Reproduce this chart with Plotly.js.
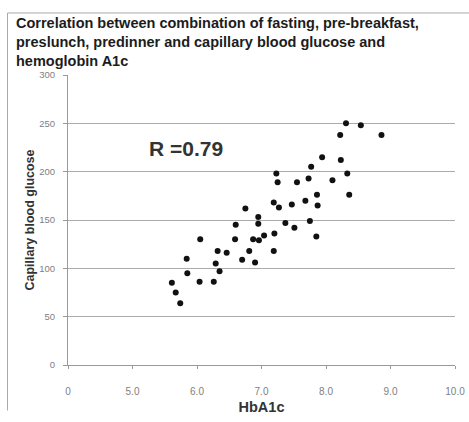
<!DOCTYPE html>
<html>
<head>
<meta charset="utf-8">
<script src="https://cdn.plot.ly/plotly-3.0.1.min.js"></script>
<style>
  html, body { margin: 0; padding: 0; background: #ffffff; }
  #chart { width: 469px; height: 422px; }
</style>
</head>
<body>
<div id="chart"></div>
<script>
// HbA1c (%) against combined capillary blood glucose (mg/dL), one point per patient
const hba1c = [5.74, 5.67, 5.61, 5.84, 5.85, 6.04, 6.26, 6.05, 6.29, 6.32,
               6.35, 6.46, 6.60, 6.59, 6.70, 6.75, 6.81, 6.87, 6.90, 6.95,
               6.95, 6.96, 7.04, 7.19, 7.20, 7.19, 7.23, 7.25, 7.27, 7.37,
               7.47, 7.51, 7.55, 7.68, 7.73, 7.75, 7.77, 7.85, 7.86, 7.87,
               7.94, 8.10, 8.22, 8.23, 8.31, 8.33, 8.36, 8.54, 8.86];
const glucose = [64, 75, 85, 110, 95, 86, 86, 130, 105, 118,
                 97, 116, 145, 130, 109, 162, 118, 130, 106, 153,
                 146, 129, 134, 118, 136, 168, 198, 189, 163, 147,
                 166, 142, 189, 170, 193, 149, 205, 133, 176, 165,
                 215, 191, 238, 212, 250, 198, 176, 248, 238];

// The HbA1c axis is broken below 5.0: its first tick reads 0
const xTickVals = [4, 5, 6, 7, 8, 9, 10];
const xTickText = ['0', '5.0', '6.0', '7.0', '8.0', '9.0', '10.0'];
const yTickVals = [0, 50, 100, 150, 200, 250, 300];

const titleText = 'Correlation between combination of fasting, pre-breakfast,<br>' +
                  'preslunch, predinner and capillary blood glucose and<br>' +
                  'hemoglobin A1c';
const rLabel = 'R =0.79';

const trace = {
  type: 'scatter',
  mode: 'markers',
  x: hba1c,
  y: glucose,
  marker: { color: '#111111', size: 6 },
  hoverinfo: 'x+y'
};

const frameColor = '#a9a9a9';

const layout = {
  width: 469,
  height: 422,
  margin: { l: 68, r: 14, t: 75, b: 57 },
  paper_bgcolor: '#ffffff',
  plot_bgcolor: '#ffffff',
  showlegend: false,
  font: { family: 'Liberation Sans, Arial, sans-serif', color: '#222222' },
  title: {
    text: titleText,
    font: { family: 'Liberation Sans, Arial, sans-serif', size: 14.5, color: '#1c1c1c', weight: 'bold' },
    x: 16 / 469,
    xanchor: 'left',
    xref: 'container',
    y: 1 - 28 / 422,
    yanchor: 'top',
    yref: 'container'
  },
  xaxis: {
    range: [4, 10],
    tickmode: 'array',
    tickvals: xTickVals,
    ticktext: xTickText,
    ticks: 'outside',
    ticklen: 3,
    tickcolor: '#999999',
    ticklabelstandoff: 14,
    tickfont: { size: 10, color: '#808080' },
    showgrid: false,
    zeroline: false,
    showline: true,
    linecolor: '#9a9a9a',
    linewidth: 1,
    fixedrange: true,
    title: {
      text: 'HbA1c',
      font: { size: 14.5, color: '#333333', weight: 'bold' },
      standoff: 5
    }
  },
  yaxis: {
    range: [0, 300],
    tickmode: 'array',
    tickvals: yTickVals,
    ticks: 'outside',
    ticklen: 4,
    tickcolor: '#999999',
    ticklabelstandoff: 6,
    tickfont: { size: 9.5, color: '#808080' },
    showgrid: true,
    gridcolor: '#ababab',
    gridwidth: 1,
    zeroline: false,
    showline: true,
    linecolor: '#9a9a9a',
    linewidth: 1,
    fixedrange: true,
    title: {
      text: 'Capillary blood glucose',
      font: { size: 12.5, color: '#333333', weight: 'bold' },
      standoff: 1
    }
  },
  annotations: [{
    x: 5.22,
    y: 224,
    xref: 'x',
    yref: 'y',
    xanchor: 'left',
    yanchor: 'middle',
    text: rLabel,
    showarrow: false,
    font: { size: 21, color: '#333333', weight: 'bold' }
  }],
  shapes: [
    // outer frame: top and left edges
    { type: 'line', xref: 'paper', yref: 'paper',
      x0: -0.1563, x1: 1.04, y0: 1.2139, y1: 1.2139,
      line: { color: frameColor, width: 1 } },
    { type: 'line', xref: 'paper', yref: 'paper',
      x0: -0.1563, x1: -0.1563, y0: 1.2139, y1: -0.157,
      line: { color: frameColor, width: 1 } }
  ]
};

Plotly.newPlot('chart', [trace], layout, { displayModeBar: false, staticPlot: true });
</script>
</body>
</html>
